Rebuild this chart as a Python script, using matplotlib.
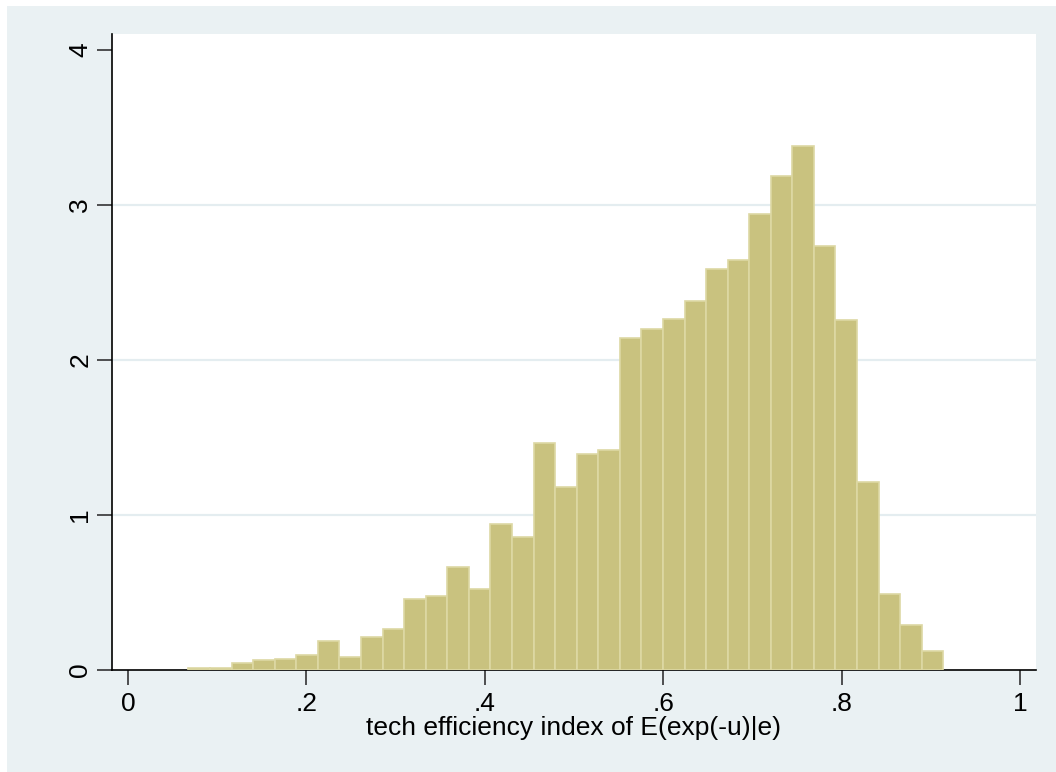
import matplotlib
matplotlib.use('Agg')
import matplotlib.pyplot as plt
from matplotlib.patches import Rectangle

plt.rcParams['font.family'] = ['Liberation Sans', 'DejaVu Sans']

# histogram bins (35 bins, Stata default) and densities
bin_start = 0.0678
bin_width = 0.02418
density = [0.011, 0.011, 0.047, 0.062, 0.071, 0.095, 0.185, 0.082, 0.21, 0.265,
           0.458, 0.48, 0.667, 0.525, 0.94, 0.86, 1.467, 1.183, 1.394, 1.419,
           2.14, 2.198, 2.265, 2.381, 2.587, 2.645, 2.94, 3.187, 3.383, 2.735,
           2.256, 1.215, 0.49, 0.288, 0.125]
x_ticks = [0, 0.2, 0.4, 0.6, 0.8, 1]
x_ticklabels = ['0', '.2', '.4', '.6', '.8', '1']
y_ticks = [0, 1, 2, 3, 4]
xlabel = 'tech efficiency index of E(exp(-u)|e)'

bg = '#EAF1F3'
bar_color = '#C9C27F'
edge_color = '#DDD8A4'

W, H = 1056, 772
fig = plt.figure(figsize=(W / 100, H / 100), dpi=100)
fig.patch.set_facecolor('white')
fig.patches.append(Rectangle((7 / W, 0), 1 - 7 / W, 1 - 6 / H, transform=fig.transFigure,
                             facecolor=bg, edgecolor='none', zorder=-10))

ax = fig.add_axes([111.7 / W, 1 - 670 / H, (1036 - 111.7) / W, (670 - 34) / H])
ax.set_facecolor('white')

lefts = [bin_start + i * bin_width for i in range(len(density))]
ax.bar(lefts, density, width=bin_width, align='edge', color=bar_color,
       edgecolor=edge_color, linewidth=1.2, zorder=3)

for y in y_ticks[1:-1]:
    ax.axhline(y, color='#E4EDF0', linewidth=1.6, zorder=1)

ax.set_xlim(-0.0183, 1.018)
ax.set_ylim(0, 4.103)
ax.set_xticks(x_ticks)
ax.set_xticklabels(x_ticklabels)
ax.set_yticks(y_ticks)
ax.set_yticklabels([str(v) for v in y_ticks], rotation=90, va='center')
ax.tick_params(axis='both', direction='out', length=11, width=1.2, color='#333333',
               labelsize=19)
ax.tick_params(axis='x', pad=5)
ax.tick_params(axis='y', pad=3)

for side in ['top', 'right']:
    ax.spines[side].set_visible(False)
for side in ['left', 'bottom']:
    ax.spines[side].set_linewidth(1.2)
    ax.spines[side].set_color('black')

ax.set_xlabel(xlabel, fontsize=19, labelpad=0)

fig.savefig('out.png', dpi=100, facecolor=fig.get_facecolor())
